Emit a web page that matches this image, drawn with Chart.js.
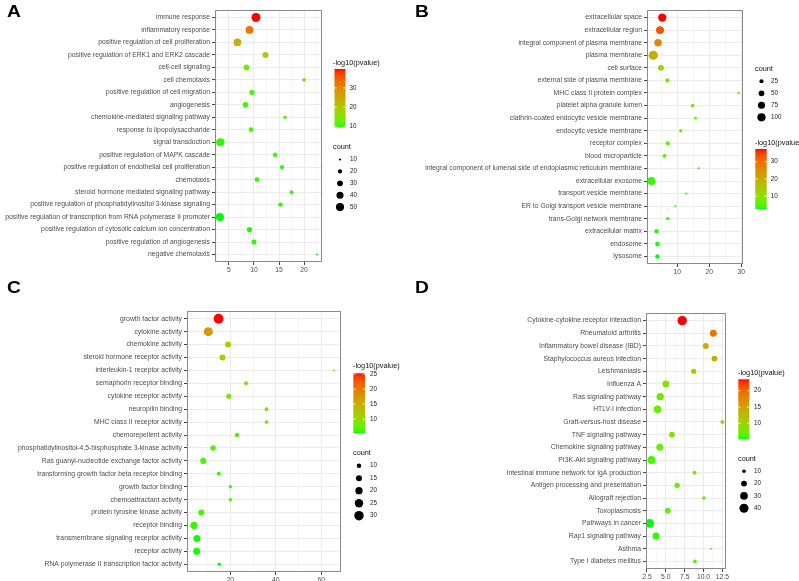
<!DOCTYPE html>
<html>
<head>
<meta charset="utf-8">
<script src="https://cdn.jsdelivr.net/npm/chart.js@4.4.1/dist/chart.umd.min.js"></script>
<style>
  body { margin: 0; background: #fff; }
  #wrap { position: relative; width: 799px; height: 581px; overflow: hidden; }
  canvas { position: absolute; }
  .tag { position: absolute; font: bold 16px "Liberation Sans", Arial, sans-serif; line-height: 1; color: #000;
         transform: scaleX(1.2); transform-origin: left top; }
</style>
</head>
<body>
<div id="wrap">
  <canvas id="chartA" width="400" height="290" style="left:0;top:0"></canvas>
  <canvas id="chartB" width="399" height="290" style="left:400px;top:0"></canvas>
  <canvas id="chartC" width="400" height="291" style="left:0;top:290px"></canvas>
  <canvas id="chartD" width="399" height="291" style="left:400px;top:290px"></canvas>
  <div class="tag" style="left:7px;top:4px">A</div>
  <div class="tag" style="left:415px;top:4px">B</div>
  <div class="tag" style="left:7px;top:280px">C</div>
  <div class="tag" style="left:415px;top:280px">D</div>
</div>
<script>
// ---------- A: biological process ----------
const labelsA = ["immune response", "inflammatory response", "positive regulation of cell proliferation",
  "positive regulation of ERK1 and ERK2 cascade", "cell-cell signaling", "cell chemotaxis",
  "positive regulation of cell migration", "angiogenesis", "chemokine-mediated signaling pathway",
  "response to lipopolysaccharide", "signal transduction", "positive regulation of MAPK cascade",
  "positive regulation of endothelial cell proliferation", "chemotaxis", "steroid hormone mediated signaling pathway",
  "positive regulation of phosphatidylinositol 3-kinase signaling",
  "positive regulation of transcription from RNA polymerase II promoter",
  "positive regulation of cytosolic calcium ion concentration", "positive regulation of angiogenesis",
  "negative chemotaxis"];
const foldA = [10.4, 9.1, 6.7, 12.3, 8.5, 20.0, 9.6, 8.3, 16.2, 9.4, 3.3, 14.2, 15.6, 10.6, 17.5, 15.3, 3.2, 9.1, 10.0, 22.6];
const countA = [58, 46, 45, 32, 30, 18, 26, 29, 16, 24, 50, 22, 20, 24, 18, 21, 50, 27, 25, 9];
const pvalA = [39.8, 32, 24, 18, 13, 12.5, 11, 11, 11.5, 11, 10, 10.5, 10, 10.5, 10, 10, 9.5, 9.8, 10, 9.6];
const xTicksA = [5, 10, 15, 20];
const pTicksA = [10, 20, 30];
const cTicksA = [10, 20, 30, 40, 50];

// ---------- B: cellular component ----------
const labelsB = ["extracellular space", "extracellular region", "integral component of plasma membrane",
  "plasma membrane", "cell surface", "external side of plasma membrane", "MHC class II protein complex",
  "platelet alpha granule lumen", "clathrin-coated endocytic vesicle membrane", "endocytic vesicle membrane",
  "receptor complex", "blood microparticle",
  "integral component of lumenal side of endoplasmic reticulum membrane", "extracellular exosome",
  "transport vesicle membrane", "ER to Golgi transport vesicle membrane", "trans-Golgi network membrane",
  "extracellular matrix", "endosome", "lysosome"];
const foldB = [5.3, 4.6, 4.0, 2.5, 4.9, 6.9, 29.2, 14.8, 15.7, 11.1, 7.0, 6.0, 16.7, 1.9, 12.8, 9.4, 7.0, 3.5, 3.8, 3.8];
const countB = [101, 94, 84, 125, 52, 27, 9, 22, 12, 18, 25, 22, 7, 90, 7, 6, 16, 30, 30, 30];
const pvalB = [37.3, 33, 26, 19, 12, 8, 6, 6, 5.5, 6, 6, 5, 4, 3.5, 3.5, 3.2, 3.5, 3, 2.8, 2.7];
const xTicksB = [10, 20, 30];
const pTicksB = [10, 20, 30];
const cTicksB = [25, 50, 75, 100];

// ---------- C: molecular function ----------
const labelsC = ["growth factor activity", "cytokine activity", "chemokine activity",
  "steroid hormone receptor activity", "interleukin-1 receptor activity", "semaphorin receptor binding",
  "cytokine receptor activity", "neuropilin binding", "MHC class II receptor activity", "chemorepellent activity",
  "phosphatidylinositol-4,5-bisphosphate 3-kinase activity", "Ras guanyl-nucleotide exchange factor activity",
  "transforming growth factor beta receptor binding", "growth factor binding", "chemoattractant activity",
  "protein tyrosine kinase activity", "receptor binding", "transmembrane signaling receptor activity",
  "receptor activity", "RNA polymerase II transcription factor activity"];
const foldC = [14.8, 10.3, 19.0, 16.5, 65.6, 26.9, 19.3, 35.9, 35.9, 22.9, 12.4, 8.1, 14.9, 20.0, 20.0, 7.2, 4.0, 5.3, 5.2, 15.1];
const countC = [32, 28, 15, 15, 4, 9, 12, 8, 8, 10, 13, 16, 9, 7, 7, 15, 20, 19, 19, 7];
const pvalC = [25.3, 17, 11, 11.5, 7, 8, 8.5, 7.5, 7.5, 7, 6.5, 6.5, 6, 6, 6, 6, 6, 5.5, 5.5, 5.4];
const xTicksC = [20, 40, 60];
const pTicksC = [10, 15, 20, 25];
const cTicksC = [10, 15, 20, 25, 30];

// ---------- D: KEGG pathways ----------
const labelsD = ["Cytokine-cytokine receptor interaction", "Rheumatoid arthritis", "Inflammatory bowel disease (IBD)",
  "Staphylococcus aureus infection", "Leishmaniasis", "Influenza A", "Ras signaling pathway", "HTLV-I infection",
  "Graft-versus-host disease", "TNF signaling pathway", "Chemokine signaling pathway", "PI3K-Akt signaling pathway",
  "Intestinal immune network for IgA production", "Antigen processing and presentation", "Allograft rejection",
  "Toxoplasmosis", "Pathways in cancer", "Rap1 signaling pathway", "Asthma", "Type I diabetes mellitus"];
const foldD = [7.17, 11.3, 10.3, 11.45, 8.7, 5.0, 4.25, 3.9, 12.5, 5.8, 4.2, 3.1, 8.8, 6.5, 10.05, 5.25, 2.85, 3.7, 11.0, 8.85];
const countD = [42, 26, 20, 20, 17, 26, 28, 30, 11, 19, 26, 32, 11, 17, 10, 19, 37, 26, 5, 11];
const pvalD = [23.5, 19, 14.5, 14, 12, 8.5, 7.5, 7, 8.5, 8, 7, 6, 7.5, 7, 7, 6.5, 5.1, 5.5, 6, 6.5];
const xTicksD = [2.5, 5, 7.5, 10, 12.5];
const pTicksD = [10, 15, 20];
const cTicksD = [10, 20, 30, 40];

const FONT = '"Liberation Sans", Arial, sans-serif';
Chart.defaults.font.family = FONT;

// -----------------------------------------------------
// green -> red gradient, mixed in CIELAB like ggplot
// -----------------------------------------------------
function toLin(c) { c /= 255; return c <= 0.04045 ? c / 12.92 : Math.pow((c + 0.055) / 1.055, 2.4); }
function fromLin(c) {
  c = c <= 0.0031308 ? 12.92 * c : 1.055 * Math.pow(c, 1 / 2.4) - 0.055;
  return Math.round(Math.max(0, Math.min(1, c)) * 255);
}
function rgb2lab(rgb) {
  const [r, g, b] = rgb.map(toLin);
  const X = (0.4124 * r + 0.3576 * g + 0.1805 * b) / 0.95047;
  const Y = 0.2126 * r + 0.7152 * g + 0.0722 * b;
  const Z = (0.0193 * r + 0.1192 * g + 0.9505 * b) / 1.08883;
  const f = t => t > 0.008856 ? Math.cbrt(t) : 7.787 * t + 16 / 116;
  return [116 * f(Y) - 16, 500 * (f(X) - f(Y)), 200 * (f(Y) - f(Z))];
}
function lab2rgb(L, a, b) {
  const fy = (L + 16) / 116, fx = fy + a / 500, fz = fy - b / 200;
  const fi = t => t * t * t > 0.008856 ? t * t * t : (t - 16 / 116) / 7.787;
  const X = fi(fx) * 0.95047, Y = fi(fy), Z = fi(fz) * 1.08883;
  const r = 3.2406 * X - 1.5372 * Y - 0.4986 * Z;
  const g = -0.9689 * X + 1.8758 * Y + 0.0415 * Z;
  const bb = 0.0557 * X - 0.2040 * Y + 1.0570 * Z;
  return 'rgb(' + [r, g, bb].map(fromLin).join(',') + ')';
}
const LOW = rgb2lab([0, 255, 0]), HIGH = rgb2lab([255, 0, 0]);
function labMix(t) {
  t = Math.max(0, Math.min(1, t));
  return lab2rgb(LOW[0] + (HIGH[0] - LOW[0]) * t, LOW[1] + (HIGH[1] - LOW[1]) * t, LOW[2] + (HIGH[2] - LOW[2]) * t);
}

// area-style size scale (sqrt), 1px .. rMax px radius
function sizeScale(counts, rMax) {
  const lo = Math.sqrt(Math.min(...counts)), hi = Math.sqrt(Math.max(...counts));
  return c => 1 + (Math.sqrt(c) - lo) / (hi - lo) * (rMax - 1);
}

// frame + the two ggplot-like legends, drawn on the canvas
function decorations(pval, pTicks, cTicks, size, leg) {
  const pLo = Math.min(...pval), pHi = Math.max(...pval);
  return {
    id: 'decor',
    afterDatasetsDraw(chart) {
      const ctx = chart.ctx, a = chart.chartArea;
      ctx.save();
      ctx.strokeStyle = '#8a8a8a';
      ctx.lineWidth = 1;
      ctx.strokeRect(Math.round(a.left) + 0.5, Math.round(a.top) + 0.5,
        Math.round(a.right - a.left) - 1, Math.round(a.bottom - a.top) - 1);
      ctx.restore();
    },
    afterDraw(chart) {
      const ctx = chart.ctx;
      ctx.save();
      ctx.textBaseline = 'middle';
      ctx.textAlign = 'left';

      // colour bar
      ctx.fillStyle = '#111';
      ctx.font = '7.3px ' + FONT;
      ctx.fillText('-log10(pvalue)', leg.x, leg.colTitleY);
      const g = ctx.createLinearGradient(0, leg.barY + leg.barH, 0, leg.barY);
      for (let k = 0; k <= 30; k++) g.addColorStop(k / 30, labMix(k / 30));
      ctx.fillStyle = g;
      ctx.fillRect(leg.barX, leg.barY, leg.barW, leg.barH);
      ctx.strokeStyle = '#fff';
      ctx.lineWidth = 0.8;
      ctx.font = '6.3px ' + FONT;
      pTicks.forEach(v => {
        const y = leg.barY + leg.barH - (v - pLo) / (pHi - pLo) * leg.barH;
        ctx.beginPath();
        ctx.moveTo(leg.barX, y); ctx.lineTo(leg.barX + leg.barW / 5, y);
        ctx.moveTo(leg.barX + leg.barW * 4 / 5, y); ctx.lineTo(leg.barX + leg.barW, y);
        ctx.stroke();
        ctx.fillStyle = '#222';
        ctx.fillText(String(v), leg.barLabelX, y);
      });

      // count legend
      ctx.fillStyle = '#111';
      ctx.font = '7.3px ' + FONT;
      ctx.fillText('count', leg.x, leg.cntTitleY);
      ctx.font = '6.3px ' + FONT;
      cTicks.forEach((c, i) => {
        const y = leg.cntY0 + i * leg.cntStep;
        ctx.fillStyle = '#000';
        ctx.beginPath();
        ctx.arc(leg.circleX, y, size(c), 0, Math.PI * 2);
        ctx.fill();
        ctx.fillStyle = '#222';
        ctx.fillText(String(c), leg.cntLabelX, y);
      });
      ctx.restore();
    }
  };
}

function buildPanel(id, labels, fold, count, pval, xTicks, pTicks, cTicks, rMax, decimals, box, leg) {
  const canvas = document.getElementById(id);
  const W = canvas.width, H = canvas.height;
  const n = labels.length;
  const size = sizeScale(count, rMax);
  const pLo = Math.min(...pval), pHi = Math.max(...pval);
  const lo = Math.min(...fold), hi = Math.max(...fold), pad = (hi - lo) * 0.05;

  // major + minor vertical grid lines
  const step = xTicks[1] - xTicks[0];
  const grid = [];
  for (let v = xTicks[0] - step / 2; v <= hi + pad; v += step / 2) {
    if (v >= lo - pad) grid.push(+v.toFixed(4));
  }
  const isMajor = v => xTicks.some(t => Math.abs(t - v) < 1e-6);

  new Chart(canvas.getContext('2d'), {
    type: 'bubble',
    data: {
      datasets: [{
        data: fold.map((x, i) => ({ x: x, y: i, r: size(count[i]) })),
        backgroundColor: pval.map(v => labMix((v - pLo) / (pHi - pLo))),
        borderWidth: 0,
        hoverBorderWidth: 0,
        hoverRadius: 0
      }]
    },
    options: {
      responsive: false,
      animation: false,
      events: [],
      layout: { padding: { left: 0, top: box.top, right: W - box.right, bottom: H - box.bottom - 16 } },
      plugins: { legend: { display: false }, tooltip: { enabled: false } },
      scales: {
        x: {
          type: 'linear',
          min: lo - pad,
          max: hi + pad,
          afterBuildTicks: s => { s.ticks = grid.map(v => ({ value: v })); },
          afterFit: s => { s.height = 16; },
          ticks: {
            autoSkip: false, maxRotation: 0, padding: 1, color: '#4D4D4D', font: { size: 6.8 },
            callback: v => isMajor(v) ? v.toFixed(decimals) : ''
          },
          grid: {
            color: '#EBEBEB',
            lineWidth: c => (c.tick && isMajor(c.tick.value)) ? 1 : 0.5,
            tickLength: 3,
            tickColor: c => (c.tick && isMajor(c.tick.value)) ? '#444' : 'rgba(0,0,0,0)'
          },
          border: { display: false }
        },
        y: {
          type: 'linear',
          reverse: true,
          min: -0.6,
          max: n - 0.4,
          afterBuildTicks: s => { s.ticks = labels.map((l, i) => ({ value: i })); },
          afterFit: s => { s.width = box.left; },
          ticks: { autoSkip: false, padding: 2, color: '#4D4D4D', font: { size: 6.8 }, callback: v => labels[v] },
          grid: { color: '#EBEBEB', lineWidth: 1, tickLength: 3, tickColor: '#444' },
          border: { display: false }
        }
      }
    },
    plugins: [decorations(pval, pTicks, cTicks, size, leg)]
  });
}

buildPanel('chartA', labelsA, foldA, countA, pvalA, xTicksA, pTicksA, cTicksA, 4.5, 0,
  { left: 215, right: 322, top: 10, bottom: 262 },
  { x: 333, colTitleY: 63, barX: 334.5, barY: 69, barW: 11, barH: 58.5, barLabelX: 349.5,
    cntTitleY: 147, cntY0: 159.5, cntStep: 11.9, circleX: 340, cntLabelX: 350 });

buildPanel('chartB', labelsB, foldB, countB, pvalB, xTicksB, pTicksB, cTicksB, 4.6, 0,
  { left: 247, right: 343, top: 10, bottom: 264 },
  { x: 355, colTitleY: 143, barX: 355.3, barY: 149, barW: 11.4, barH: 60, barLabelX: 370.7,
    cntTitleY: 69, cntY0: 81.3, cntStep: 12, circleX: 361.5, cntLabelX: 371 });

buildPanel('chartC', labelsC, foldC, countC, pvalC, xTicksC, pTicksC, cTicksC, 4.9, 0,
  { left: 187, right: 341, top: 21, bottom: 282 },
  { x: 353, colTitleY: 76, barX: 353.3, barY: 83.3, barW: 11.7, barH: 59.7, barLabelX: 370,
    cntTitleY: 162.7, cntY0: 175.7, cntStep: 12.5, circleX: 359, cntLabelX: 370 });

buildPanel('chartD', labelsD, foldD, countD, pvalD, xTicksD, pTicksD, cTicksD, 4.7, 1,
  { left: 246, right: 326, top: 23, bottom: 279 },
  { x: 338, colTitleY: 82.7, barX: 338.3, barY: 89.3, barW: 11, barH: 60, barLabelX: 354,
    cntTitleY: 168.7, cntY0: 181.3, cntStep: 12.3, circleX: 344, cntLabelX: 354 });
</script>
</body>
</html>
